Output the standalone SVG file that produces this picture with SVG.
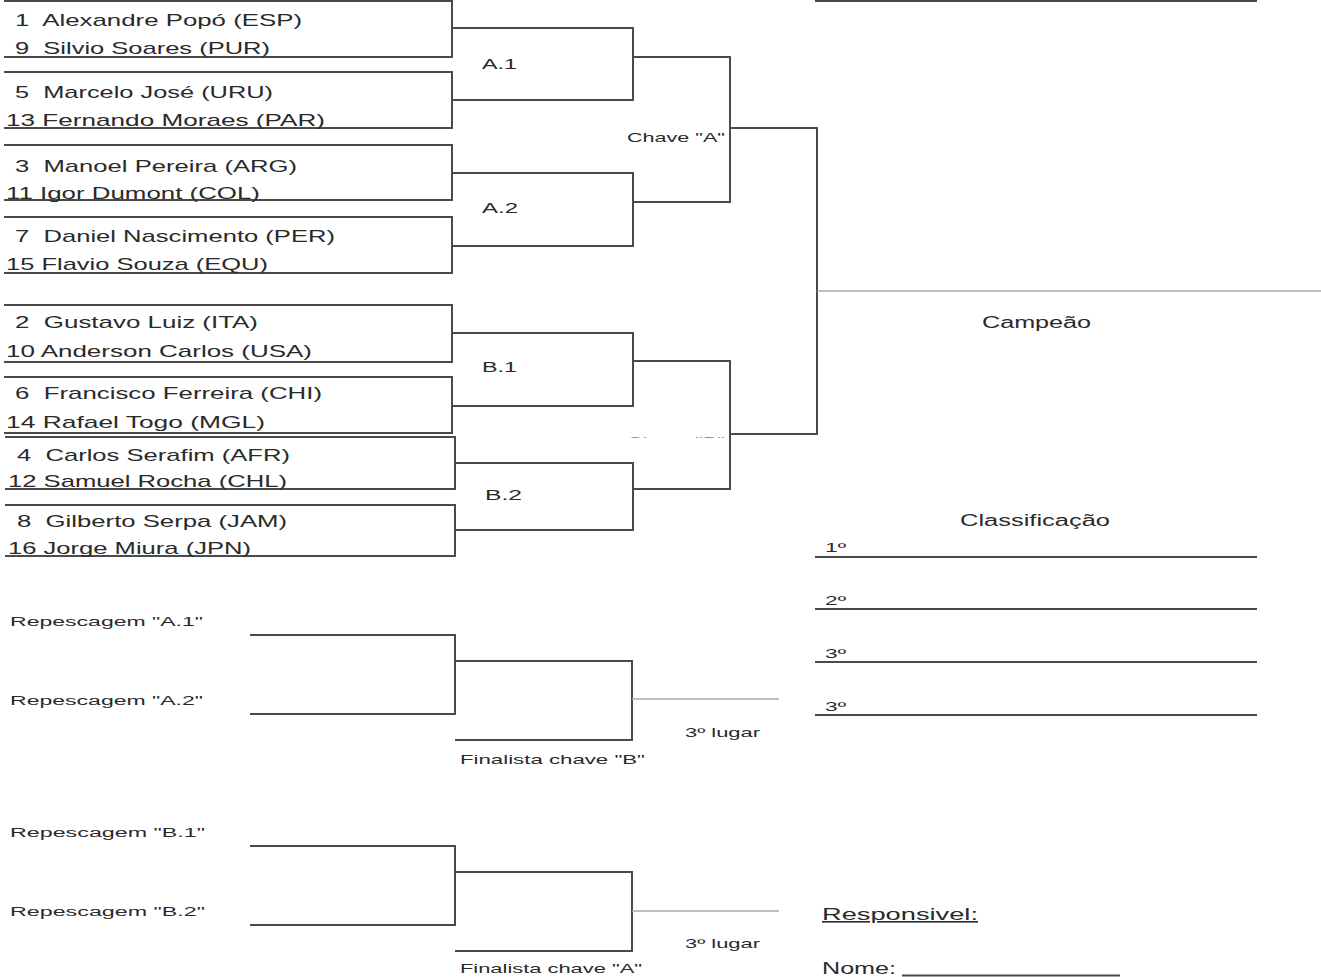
<svg xmlns="http://www.w3.org/2000/svg" width="1321" height="977" viewBox="0 0 1321 977">
<style>
.ln{fill:none;stroke:#4a4a4a;stroke-width:2}
.thin{fill:none;stroke:#a8a8a8;stroke-width:1.3}
.t{font-family:"Liberation Sans",Arial,sans-serif;fill:#2a2a2a}
.nm{font-size:17px}
.lb{font-size:15px}
.md{font-size:16px}
.s13{font-size:13px}
.s12{font-size:12px}
</style>
<defs>
<clipPath id="cutB"><rect x="600" y="430" width="140" height="7.5"/></clipPath>
</defs>
<rect width="1321" height="977" fill="#fff"/>

<g id="box1"><path class="ln" d="M4 1H452V57H4"/>
<text class="t nm" x="15" y="26" textLength="287" lengthAdjust="spacingAndGlyphs" xml:space="preserve">1  Alexandre Popó (ESP)</text>
<text class="t nm" x="15" y="54" textLength="255" lengthAdjust="spacingAndGlyphs" xml:space="preserve">9  Silvio Soares (PUR)</text></g>
<g id="box2"><path class="ln" d="M4 72H452V128H4"/>
<text class="t nm" x="15" y="98" textLength="258" lengthAdjust="spacingAndGlyphs" xml:space="preserve">5  Marcelo José (URU)</text>
<text class="t nm" x="6" y="126" textLength="319" lengthAdjust="spacingAndGlyphs">13 Fernando Moraes (PAR)</text></g>
<g id="box3"><path class="ln" d="M4 145H452V200H4"/>
<text class="t nm" x="15" y="172" textLength="282" lengthAdjust="spacingAndGlyphs" xml:space="preserve">3  Manoel Pereira (ARG)</text>
<text class="t nm" x="6" y="199" textLength="254" lengthAdjust="spacingAndGlyphs">11 Igor Dumont (COL)</text></g>
<g id="box4"><path class="ln" d="M4 217H452V273H4"/>
<text class="t nm" x="15" y="242" textLength="320" lengthAdjust="spacingAndGlyphs" xml:space="preserve">7  Daniel Nascimento (PER)</text>
<text class="t nm" x="6" y="270" textLength="262" lengthAdjust="spacingAndGlyphs">15 Flavio Souza (EQU)</text></g>
<g id="box5"><path class="ln" d="M4 305H452V362H4"/>
<text class="t nm" x="15" y="328" textLength="243" lengthAdjust="spacingAndGlyphs" xml:space="preserve">2  Gustavo Luiz (ITA)</text>
<text class="t nm" x="6" y="357" textLength="306" lengthAdjust="spacingAndGlyphs">10 Anderson Carlos (USA)</text></g>
<g id="box6"><path class="ln" d="M4 377H452V433H4"/>
<text class="t nm" x="15" y="399" textLength="307" lengthAdjust="spacingAndGlyphs" xml:space="preserve">6  Francisco Ferreira (CHI)</text>
<text class="t nm" x="6" y="428" textLength="259" lengthAdjust="spacingAndGlyphs">14 Rafael Togo (MGL)</text></g>
<g id="box7"><path class="ln" d="M5 437H455V489H5"/>
<text class="t nm" x="17" y="461" textLength="273" lengthAdjust="spacingAndGlyphs" xml:space="preserve">4  Carlos Serafim (AFR)</text>
<text class="t nm" x="8" y="487" textLength="279" lengthAdjust="spacingAndGlyphs">12 Samuel Rocha (CHL)</text></g>
<g id="box8"><path class="ln" d="M5 505H455V556H5"/>
<text class="t nm" x="17" y="527" textLength="270" lengthAdjust="spacingAndGlyphs" xml:space="preserve">8  Gilberto Serpa (JAM)</text>
<text class="t nm" x="8" y="554" textLength="243" lengthAdjust="spacingAndGlyphs">16 Jorge Miura (JPN)</text></g>

<g id="connectors">
<path class="ln" d="M452 28H633V100H452"/>
<path class="ln" d="M452 173H633V246H452"/>
<path class="ln" d="M633 57H730V202H633"/>
<path class="ln" d="M730 128H817V434H730"/>
<path class="ln" d="M452 333H633V406H452"/>
<path class="ln" d="M455 463H633V530H455"/>
<path class="ln" d="M633 361H730V489H633"/>
<path class="thin" d="M817 291H1321"/>
<path class="ln" d="M815 1H1257"/>
<path class="ln" d="M250 635H455V714H250"/>
<path class="ln" d="M455 661H632V740H455"/>
<path class="thin" d="M632 699H779"/>
<path class="ln" d="M250 846H455V925H250"/>
<path class="ln" d="M455 872H632V951H455"/>
<path class="thin" d="M632 911H779"/>
</g>

<g id="labels">
<text class="t lb" x="482" y="69" textLength="35" lengthAdjust="spacingAndGlyphs">A.1</text>
<text class="t lb" x="482" y="213" textLength="36" lengthAdjust="spacingAndGlyphs">A.2</text>
<text class="t lb" x="482" y="372" textLength="35" lengthAdjust="spacingAndGlyphs">B.1</text>
<text class="t lb" x="485" y="500" textLength="37" lengthAdjust="spacingAndGlyphs">B.2</text>
<text class="t s13" x="627" y="142" textLength="98" lengthAdjust="spacingAndGlyphs">Chave "A"</text>
<text class="t s13" x="627" y="446" textLength="98" lengthAdjust="spacingAndGlyphs" clip-path="url(#cutB)">Chave "B"</text>
</g>

<g id="champion">
<text class="t md" x="982" y="328" textLength="109" lengthAdjust="spacingAndGlyphs">Campeão</text>
</g>

<g id="classification">
<text class="t md" x="960" y="526" textLength="150" lengthAdjust="spacingAndGlyphs">Classificação</text>
<path class="ln" d="M815 557H1257M815 609H1257M815 662H1257M815 715H1257"/>
<text class="t s13" x="825" y="552" textLength="21" lengthAdjust="spacingAndGlyphs">1º</text>
<text class="t s13" x="825" y="605" textLength="21" lengthAdjust="spacingAndGlyphs">2º</text>
<text class="t s13" x="825" y="658" textLength="21" lengthAdjust="spacingAndGlyphs">3º</text>
<text class="t s13" x="825" y="711" textLength="21" lengthAdjust="spacingAndGlyphs">3º</text>
</g>

<g id="repA">
<text class="t s12" x="10" y="626" textLength="193" lengthAdjust="spacingAndGlyphs">Repescagem "A.1"</text>
<text class="t s12" x="10" y="705" textLength="193" lengthAdjust="spacingAndGlyphs">Repescagem "A.2"</text>
<text class="t s13" x="685" y="737" textLength="75" lengthAdjust="spacingAndGlyphs">3º lugar</text>
<text class="t s13" x="460" y="764" textLength="185" lengthAdjust="spacingAndGlyphs">Finalista chave "B"</text>
</g>
<g id="repB">
<text class="t s12" x="10" y="837" textLength="195" lengthAdjust="spacingAndGlyphs">Repescagem "B.1"</text>
<text class="t s12" x="10" y="916" textLength="195" lengthAdjust="spacingAndGlyphs">Repescagem "B.2"</text>
<text class="t s13" x="685" y="948" textLength="75" lengthAdjust="spacingAndGlyphs">3º lugar</text>
<text class="t s13" x="460" y="973" textLength="182" lengthAdjust="spacingAndGlyphs">Finalista chave "A"</text>
</g>

<g id="responsible">
<text class="t md" x="822" y="920" textLength="156" lengthAdjust="spacingAndGlyphs" text-decoration="underline">Responsivel:</text>
<text class="t md" x="822" y="974" textLength="74" lengthAdjust="spacingAndGlyphs">Nome:</text>
<path class="ln" d="M902 975.5H1120" stroke-width="1.5"/>
</g>
</svg>
